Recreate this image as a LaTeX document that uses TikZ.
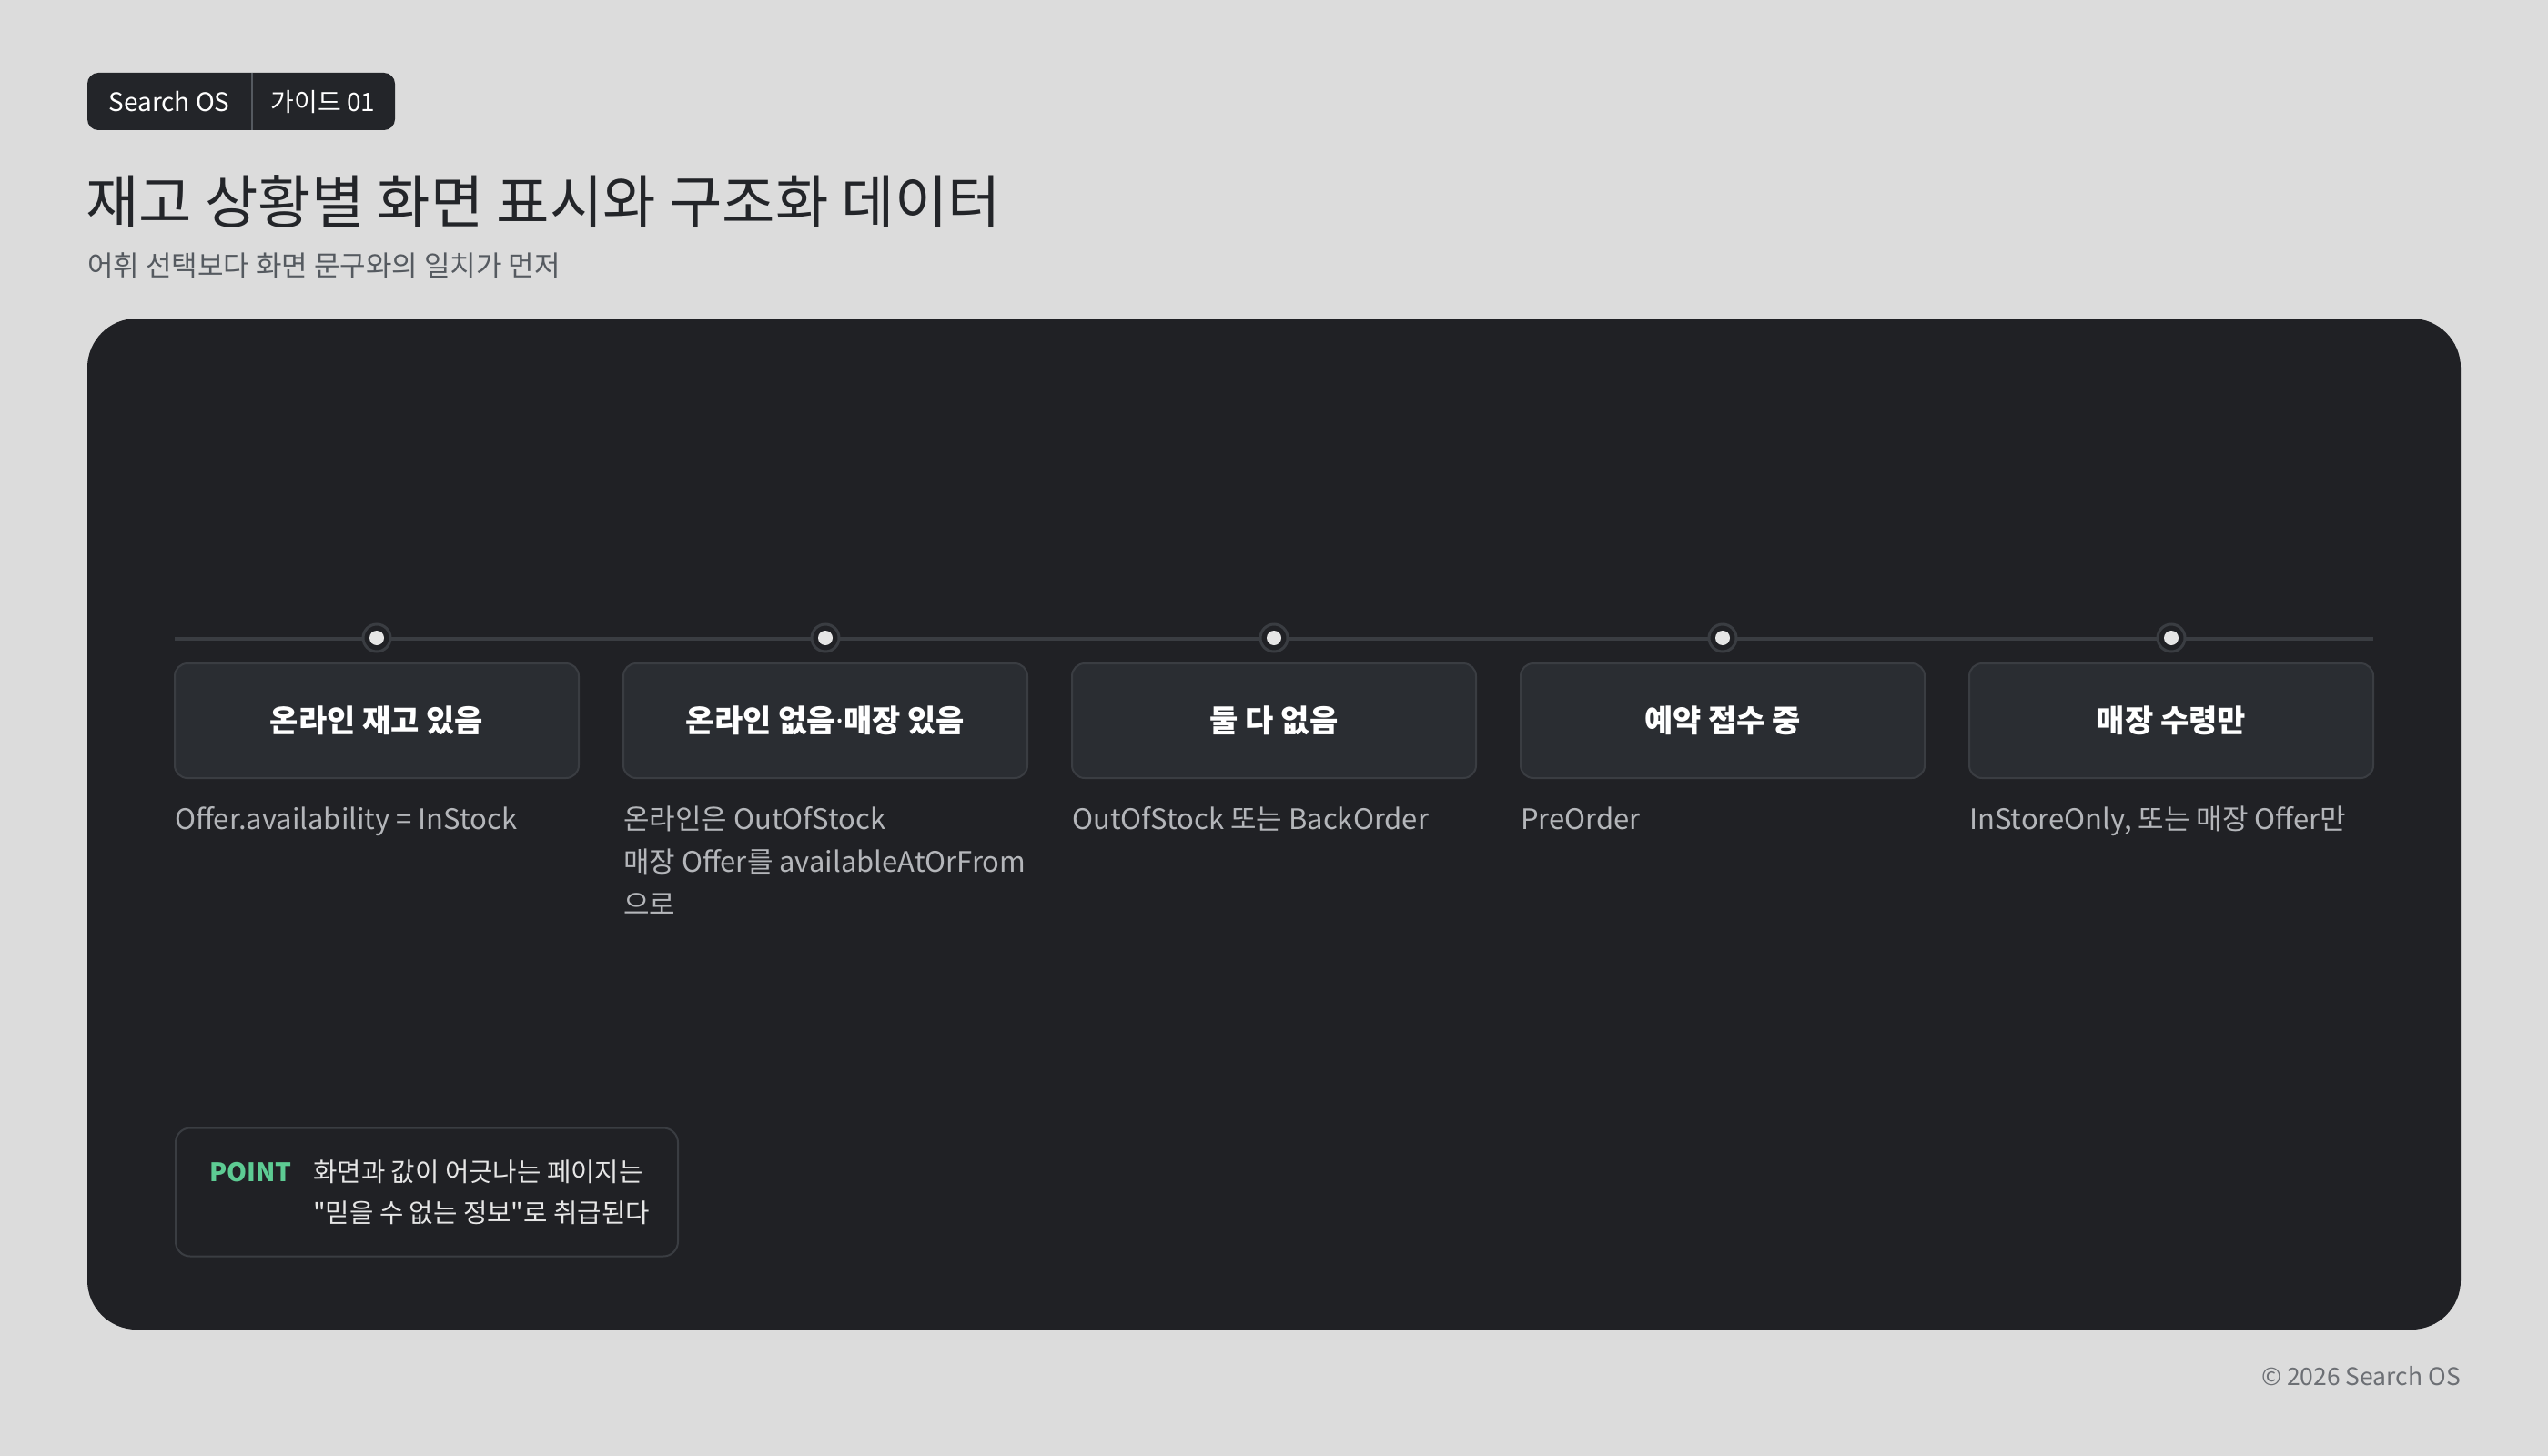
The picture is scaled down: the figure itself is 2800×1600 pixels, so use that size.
\documentclass[tikz,border=0pt]{standalone}
\usepackage{fontspec}
\setmainfont{Noto Sans CJK KR}
\newfontfamily\latinfont{Noto Sans}
\usepackage{xcolor}
\usepackage{tikz}
\usetikzlibrary{positioning}
\definecolor{PageGray}{HTML}{DCDCDC}
\definecolor{PanelDark}{HTML}{202125}
\definecolor{CardDark}{HTML}{2A2D32}
\definecolor{EdgeGray}{HTML}{3A3D42}
\definecolor{DotWhite}{HTML}{E6E6E6}
\definecolor{InkDark}{HTML}{232529}
\definecolor{SubGray}{HTML}{555A60}
\definecolor{DescGray}{HTML}{B4B6BA}
\definecolor{PointGreen}{HTML}{5DCB93}
\definecolor{FootGray}{HTML}{6C6F74}
\tikzstyle{stage} = [rectangle, rounded corners=14pt, minimum width=444pt, minimum height=126pt, text centered, draw=EdgeGray, fill=CardDark, line width=2pt, text=white, font=\fontsize{34}{40}\selectfont\bfseries]
\tikzstyle{desc} = [anchor=base west, inner sep=0pt, align=left, text=DescGray, font=\fontsize{31}{47}\selectfont]
\tikzstyle{tick} = [circle, minimum size=30pt, inner sep=0pt, draw=EdgeGray, fill=PanelDark, line width=3pt]
\tikzstyle{track} = [EdgeGray, line width=4pt]

\begin{document}
\begin{tikzpicture}[x=1pt, y=-1pt]

% Fond
\useasboundingbox (0,0) rectangle (2800,1600);
\fill[PageGray] (0,0) rectangle (2800,1600);

% En-tete
\node (badge) [rectangle, rounded corners=12pt, fill=InkDark, minimum width=338pt, minimum height=63pt, inner sep=0pt] at (265,111.5) {};
\draw [SubGray, line width=2pt] (277,80) -- (277,143);
\node (brand) [text=white, font=\fontsize{28}{32}\selectfont] at (186,112) {Search OS};
\node (guide) [text=white, font=\fontsize{28}{32}\selectfont] at (355,112) {가이드 01};
\node (title) [anchor=base west, inner sep=0pt, text=InkDark, font=\fontsize{63.5}{70}\selectfont] at (94,245) {재고 상황별 화면 표시와 구조화 데이터};
\node (subtitle) [anchor=base west, inner sep=0pt, text=SubGray, font=\fontsize{31}{36}\selectfont] at (96,303) {어휘 선택보다 화면 문구와의 일치가 먼저};

% Panneau
\fill[PanelDark, rounded corners=54pt] (96,350) rectangle (2704,1461);

% Ligne du temps
\coordinate (tlstart) at (192,702);
\coordinate (tlend) at (2608,702);
\draw [track] (tlstart) -- (tlend);
\node (t1) [tick] at (414,701) {};
\node (t2) [tick] at (907,701) {};
\node (t3) [tick] at (1400,701) {};
\node (t4) [tick] at (1893,701) {};
\node (t5) [tick] at (2386,701) {};
\fill[DotWhite] (t1) circle (8pt) (t2) circle (8pt) (t3) circle (8pt) (t4) circle (8pt) (t5) circle (8pt);

% Etats
\node (s1) [stage] at (414,792) {온라인 재고 있음};
\node (s2) [stage] at (907,792) {온라인 없음{\latinfont\bfseries ·}매장 있음};
\node (s3) [stage] at (1400,792) {둘 다 없음};
\node (s4) [stage] at (1893,792) {예약 접수 중};
\node (s5) [stage] at (2386,792) {매장 수령만};

% Descriptions (base = derniere ligne)
\node (d1) [desc] at (192,911) {Offer.availability = InStock};
\node (d2) [desc] at (685,1005) {온라인은 OutOfStock\\매장 Offer를 availableAtOrFrom\\으로};
\node (d3) [desc] at (1178,911) {OutOfStock 또는 BackOrder};
\node (d4) [desc] at (1671,911) {PreOrder};
\node (d5) [desc] at (2164,911) {InStoreOnly, 또는 매장 Offer만};

% Point
\node (pointbox) [rectangle, rounded corners=16pt, draw=EdgeGray, line width=2pt, minimum width=552pt, minimum height=141pt] at (469,1310) {};
\node (pointtag) [anchor=base west, inner sep=0pt, text=PointGreen, font=\fontsize{28}{34}\selectfont\bfseries] at (230,1298) {POINT};
\node (pointtext) [anchor=base west, inner sep=0pt, align=left, text=DotWhite, font=\fontsize{28.7}{45}\selectfont] at (344,1343) {화면과 값이 어긋나는 페이지는\\\textquotedbl 믿을 수 없는 정보\textquotedbl 로 취급된다};

% Pied de page
\node (footer) [anchor=base east, inner sep=0pt, text=FootGray, font=\fontsize{26.5}{30}\selectfont] at (2704,1522) {© 2026 Search OS};

\end{tikzpicture}
\end{document}
